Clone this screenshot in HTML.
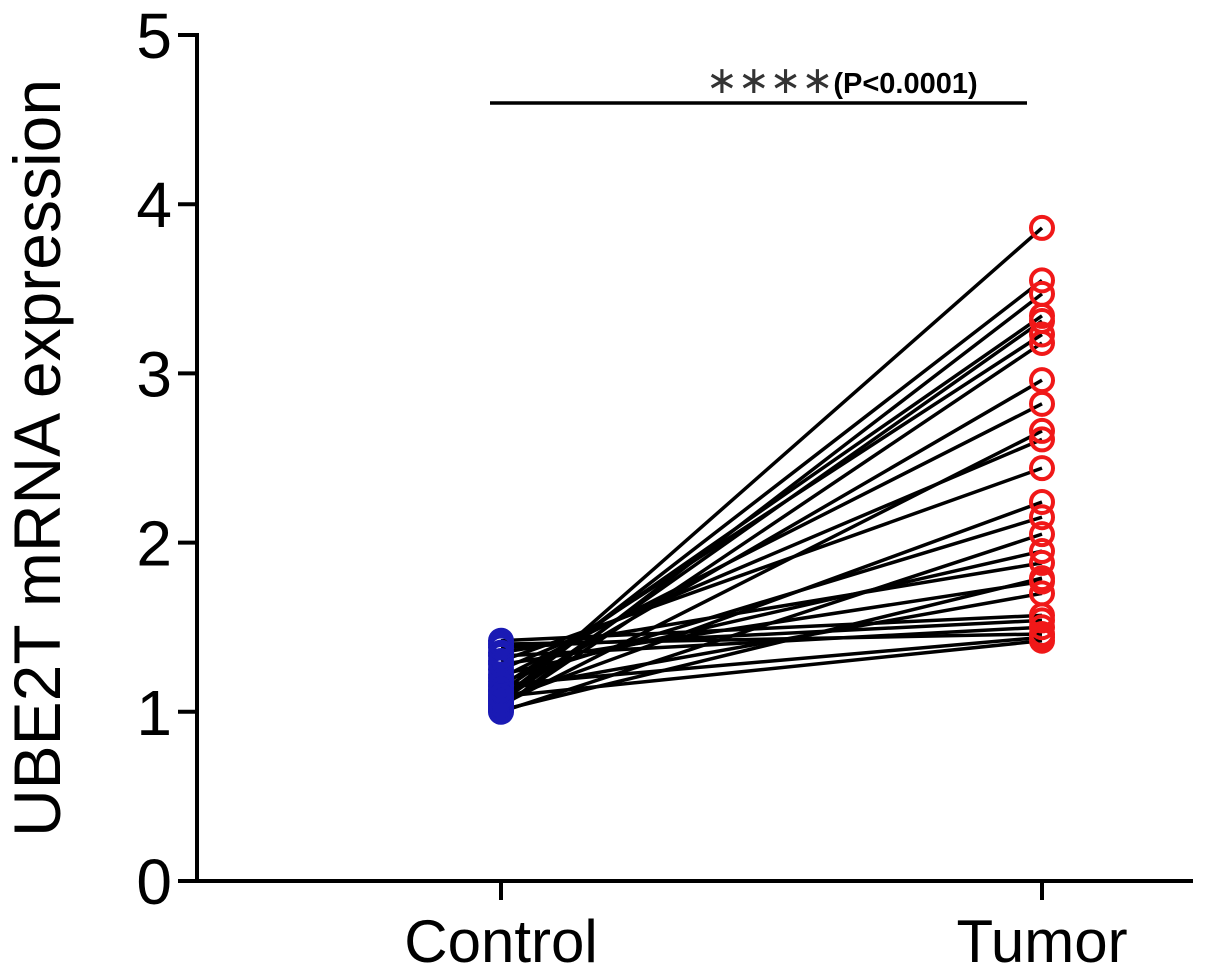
<!DOCTYPE html>
<html><head><meta charset="utf-8"><style>body{margin:0;background:#fff}svg{display:block;font-family:"Liberation Sans",Arial,sans-serif}</style></head>
<body>
<svg id="chart" width="1205" height="970"></svg>
<script>
const categories=["Control","Tumor"];
const controlValues=[1.05,1.08,1.02,1.12,1.06,1.15,1.03,1.10,1.20,1.04,1.25,1.30,1.07,1.18,1.00,1.22,1.35,1.01,1.28,1.13,1.42,1.38,1.33,1.40,1.16,1.09];
const tumorValues=[3.86,3.55,3.47,3.34,3.31,3.23,3.18,2.96,2.82,2.66,2.61,2.44,2.24,2.15,2.05,1.95,1.88,1.79,1.77,1.70,1.57,1.54,1.50,1.46,1.44,1.42];
const yTicks=[0,1,2,3,4,5];
const NS="http://www.w3.org/2000/svg";
const svg=document.getElementById('chart');
const y0=881,y5=35;
function yS(v){return y0+(y5-y0)*v/5;}
const xPos=[501,1042];
function xS(i){return xPos[i];}
function mk(t,a,p){const e=document.createElementNS(NS,t);for(const k in a)e.setAttribute(k,a[k]);(p||svg).appendChild(e);return e;}
const ya=mk('line',{x1:197,y1:33,x2:197,y2:883,stroke:'#000','stroke-width':4});


const xa=mk('line',{x1:195,y1:881,x2:1193,y2:881,stroke:'#000','stroke-width':4});


yTicks.forEach(v=>{
 const t=mk('line',{x1:178,y1:yS(v),x2:197,y2:yS(v),stroke:'#000','stroke-width':4});
 
 
 const l=mk('text',{x:172,y:yS(v)+23,'text-anchor':'end','font-size':64});
 l.textContent=v;
 
 
});
categories.forEach((c,i)=>{
 const t=mk('line',{x1:xS(i),y1:881,x2:xS(i),y2:900,stroke:'#000','stroke-width':4});
 
 
 const l=mk('text',{x:xS(i),y:962,'text-anchor':'middle','font-size':60});
 l.textContent=c;
 
 
});
const yt=mk('text',{x:0,y:0,'text-anchor':'middle','font-size':66,transform:'translate(60,458) rotate(-90)'});
yt.textContent='UBE2T mRNA expression';


controlValues.forEach((c,i)=>{
 const l=mk('line',{x1:xS(0),y1:yS(c),x2:xS(1),y2:yS(tumorValues[i]),stroke:'#000','stroke-width':3.5});
 
 
});
controlValues.forEach(c=>{
 const p=mk('circle',{cx:xS(0),cy:yS(c),r:11,fill:'none',stroke:'#1a1ab4','stroke-width':4});
 
 
});
tumorValues.forEach(v=>{
 const p=mk('circle',{cx:xS(1),cy:yS(v),r:11,fill:'none',stroke:'#f01818','stroke-width':4});
 
 
});
const sl=mk('line',{x1:490,y1:103,x2:1027,y2:103,stroke:'#000','stroke-width':3.5});


const st=mk('text',{x:706,y:93,'font-size':29,'font-weight':'bold'});
st.innerHTML='<tspan font-size="38" font-weight="normal" fill="#333" font-family="DejaVu Sans">∗∗∗∗</tspan>(P&lt;0.0001)';


</script>
</body></html>
